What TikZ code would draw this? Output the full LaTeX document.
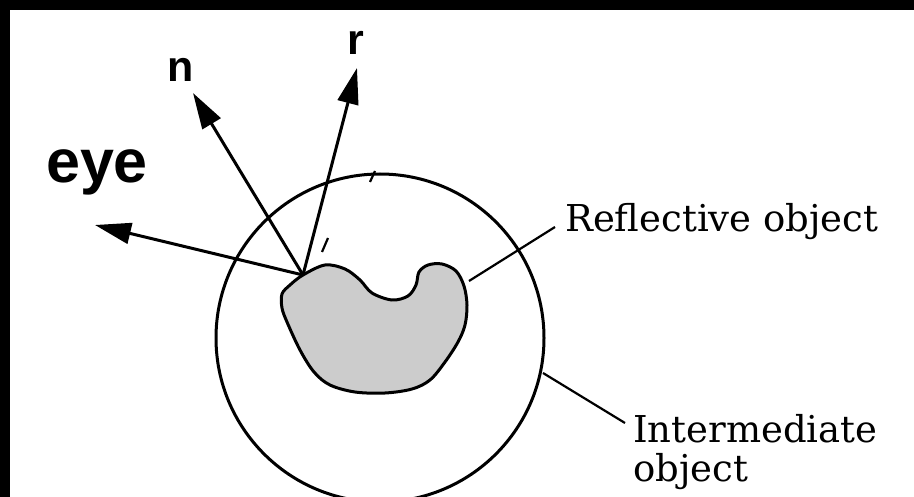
\documentclass[tikz,border=0pt]{standalone}
\usepackage{fontspec}
\setmainfont{DejaVu Serif}
\newfontfamily\labsans{Liberation Sans}
\usetikzlibrary{arrows.meta}
\begin{document}
\begin{tikzpicture}[x=1pt,y=-1pt,
  outline/.style={line width=3pt},
  ray/.style={line width=3pt,-{Triangle[length=36pt,width=21pt]}},
  leader/.style={line width=2.2pt},
  vec/.style={font=\labsans\bfseries\fontsize{43}{43}\selectfont,inner sep=0pt},
  callout/.style={font=\fontsize{37}{39}\selectfont,inner sep=0pt,align=left}]
\useasboundingbox (0,0) rectangle (914,497);
\fill[white] (0,0) rectangle (914,497);
\fill[black] (0,0) rectangle (914,10);
\fill[black] (0,0) rectangle (10,497);
% intermediate object (circle)
\begin{scope}
\clip (0,0) rectangle (914,497);
\draw[outline] (380,338) circle[radius=164];
\end{scope}
% reflective object (blob)
\draw[outline,fill=black!20] plot[smooth cycle,tension=0.55] coordinates {
 (303,275) (325,265) (345,269) (360,280) (372,293) (392,300) (408,296)
 (416,285) (419,272) (428,265) (442,264) (456,271) (464,286) (467,305)
 (465,325) (458,342) (445,362) (430,380) (412,389) (385,393) (355,392)
 (330,385) (314,372) (300,350) (287,322) (282,308) (282,294) (290,285)};
% small stray marks
\draw[line width=2.2pt] (375,171) -- (370,182);
\draw[line width=2.2pt] (328,238) -- (322,252);
% rays
\coordinate (P) at (303,275);
\coordinate (eyetip) at (95,225);
\coordinate (ntip) at (193,93);
\coordinate (rtip) at (357,68);
\draw[ray] (P) -- (eyetip);
\draw[ray] (P) -- (ntip);
\draw[ray] (P) -- (rtip);
% vector labels
\node[vec,anchor=base] (eye) at (97,183) {\fontsize{61}{61}\selectfont eye};
\node[vec,anchor=base] (n) at (181,82) {n};
\node[vec,anchor=base] (r) at (356,55) {r};
% callouts
\node[callout,anchor=base west] (refl) at (565,232) {Reflective object};
\node[callout,anchor=base west] (inter) at (633,481) {Intermediate\\object};
\coordinate (reflA) at (469,281);
\coordinate (reflB) at (555,227);
\coordinate (interA) at (543,373);
\coordinate (interB) at (625,423);
\draw[leader] (reflA) -- (reflB);
\draw[leader] (interA) -- (interB);
\end{tikzpicture}
\end{document}
